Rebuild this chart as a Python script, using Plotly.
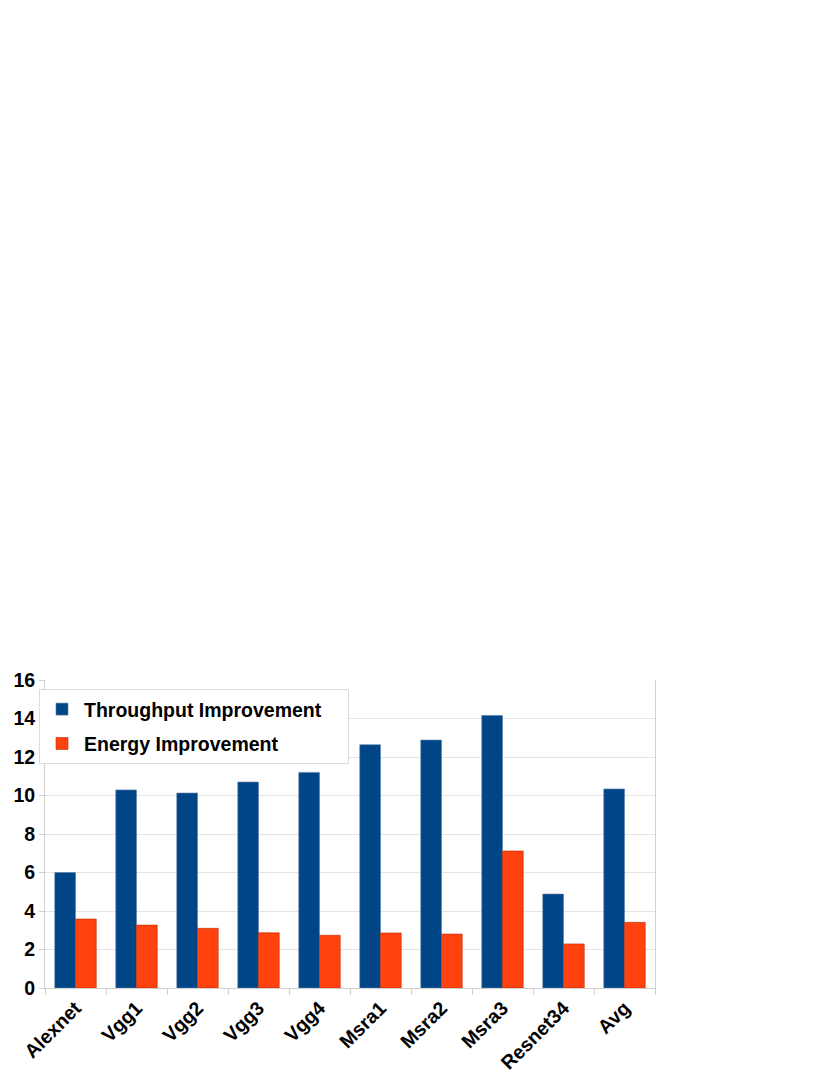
import plotly.graph_objects as go

categories = ["Alexnet", "Vgg1", "Vgg2", "Vgg3", "Vgg4", "Msra1", "Msra2", "Msra3", "Resnet34", "Avg"]
throughput = [6.0, 10.29, 10.13, 10.70, 11.2, 12.64, 12.88, 14.16, 4.88, 10.34]
energy = [3.58, 3.27, 3.10, 2.87, 2.74, 2.86, 2.80, 7.12, 2.29, 3.41]
y_ticks = [0, 2, 4, 6, 8, 10, 12, 14, 16]

FONT = "Liberation Sans, Arial, sans-serif"
AX = "#d0d0d0"
FS = 19.5
PAD = "\u00a0" * 4

fig = go.Figure()
fig.add_trace(go.Bar(x=categories, y=throughput, name="<b>Throughput Improvement</b>" + PAD,
                     marker=dict(color="#004586", line=dict(color="#5b7fa8", width=0.6)),
                     legendgroup="a"))
fig.add_trace(go.Bar(x=categories, y=energy, name="<b>Energy Improvement</b>",
                     marker=dict(color="#ff420e", line=dict(color="#c02e08", width=0.6)),
                     legendgroup="b"))

fig.update_layout(
    width=830, height=1075,
    margin=dict(l=37, r=183, t=672, b=95, autoexpand=False),
    paper_bgcolor="white", plot_bgcolor="white",
    barmode="group", bargap=0.32, bargroupgap=0,
    font=dict(family=FONT, size=FS, color="black"),
    legend=dict(x=-0.0098, y=0.971, xanchor="left", yanchor="top",
                bgcolor="white", bordercolor="#dcdcdc", borderwidth=1,
                font=dict(family=FONT, size=FS, color="black"),
                tracegroupgap=6, itemwidth=34),
    showlegend=True,
)
fig.update_xaxes(showline=True, linecolor=AX, linewidth=1, ticks="outside",
                 tickson="boundaries", ticklen=6, tickcolor=AX, tickangle=-45,
                 tickfont=dict(family=FONT, size=FS, color="black"),
                 ticktext=[f"<b>{c}</b>" for c in categories], tickvals=categories)
fig.update_yaxes(range=[0, 16], tickvals=y_ticks, ticktext=[f"<b>{t}</b>" for t in y_ticks],
                 showgrid=True, gridcolor="#e4e4e4", gridwidth=1,
                 showline=True, linecolor=AX, linewidth=1, mirror=True,
                 ticks="outside", ticklen=5, tickcolor=AX,
                 tickfont=dict(family=FONT, size=FS, color="black"), zeroline=False)

fig.write_html("out.html")
